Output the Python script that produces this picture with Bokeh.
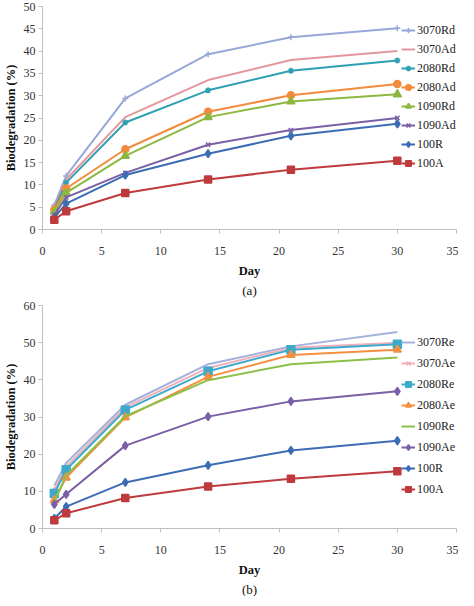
from bokeh.plotting import figure
from bokeh.models import Range1d, Legend, LegendItem, Title, FixedTicker
from bokeh.layouts import column
from bokeh.embed import file_html
from bokeh.resources import INLINE

days = [1, 2, 7, 14, 21, 30]
x_ticks = [0, 5, 10, 15, 20, 25, 30, 35]

# Panel (a)
a_names = ["3070Rd", "3070Ad", "2080Rd", "2080Ad", "1090Rd", "1090Ad", "100R", "100A"]
a_3070Rd = [5.5, 12.0, 29.4, 39.3, 43.1, 45.1]
a_3070Ad = [5.0, 11.2, 25.2, 33.5, 38.0, 40.0]
a_2080Rd = [4.6, 10.5, 24.0, 31.2, 35.6, 37.9]
a_2080Ad = [4.5, 9.2, 18.0, 26.4, 30.1, 32.6]
a_1090Rd = [4.0, 8.2, 16.5, 25.2, 28.7, 30.3]
a_1090Ad = [3.3, 7.2, 12.7, 19.0, 22.3, 25.0]
a_100R = [2.7, 5.8, 12.2, 17.0, 21.0, 23.7]
a_100A = [2.2, 4.1, 8.2, 11.2, 13.4, 15.4]
a_ticks = [0, 5, 10, 15, 20, 25, 30, 35, 40, 45, 50]

# Panel (b)
b_names = ["3070Re", "3070Ae", "2080Re", "2080Ae", "1090Re", "1090Ae", "100R", "100A"]
b_3070Re = [11.5, 17.6, 33.3, 44.2, 49.0, 52.9]
b_3070Ae = [10.5, 16.6, 32.6, 43.2, 48.6, 50.0]
b_2080Re = [9.4, 15.8, 31.9, 42.3, 48.1, 49.6]
b_2080Ae = [7.6, 13.7, 29.9, 40.8, 46.7, 48.1]
b_1090Re = [7.2, 14.3, 30.2, 39.9, 44.2, 46.0]
b_1090Ae = [6.5, 9.2, 22.3, 30.1, 34.2, 36.9]
b_100R = [2.7, 5.9, 12.4, 17.0, 21.0, 23.6]
b_100A = [2.2, 4.1, 8.2, 11.3, 13.4, 15.4]
b_ticks = [0, 10, 20, 30, 40, 50, 60]

a_styles = [
    ("#97A8D8", "cross", 6),
    ("#E4979B", None, 0),
    ("#2F9FB3", "asterisk", 6),
    ("#F38A3C", "circle", 7),
    ("#8DB83F", "triangle", 8),
    ("#7B5FA6", "x", 6),
    ("#3C6DB4", "diamond", 8),
    ("#BE3A3C", "square", 7),
]
b_styles = [
    ("#A3B2DC", None, 0),
    ("#F0B0B8", "x", 5),
    ("#3EAACB", "square", 8),
    ("#F58F3F", "triangle", 8),
    ("#8CC04A", None, 0),
    ("#7B5FA6", "diamond", 8),
    ("#3C6DB4", "diamond", 8),
    ("#BE3A3C", "square", 7),
]

SERIF = "Liberation Serif"


def make_fig(names, series, styles, ymax, yticks, caption, height, top, bottom,
             leg_y, glyph_h, spacing):
    p = figure(width=458, height=height, output_backend="svg", toolbar_location=None,
               x_range=Range1d(0, 35), y_range=Range1d(0, ymax),
               min_border_left=30, min_border_right=2, min_border_top=top,
               min_border_bottom=bottom)
    p.outline_line_color = None
    p.xgrid.visible = False
    p.ygrid.visible = False
    p.xaxis.ticker = FixedTicker(ticks=x_ticks)
    p.yaxis.ticker = FixedTicker(ticks=yticks)
    for ax in (p.xaxis[0], p.yaxis[0]):
        ax.axis_line_color = "#BFBFBF"
        ax.major_tick_line_color = "#BFBFBF"
        ax.major_tick_out = 4
        ax.major_tick_in = 0
        ax.minor_tick_line_color = None
        ax.major_label_text_font = SERIF
        ax.major_label_text_font_size = "12px"
        ax.major_label_text_color = "#333333"
        ax.axis_label_text_font = SERIF
        ax.axis_label_text_font_size = "12.5px"
        ax.axis_label_text_font_style = "bold"
        ax.axis_label_text_color = "#111111"
    p.yaxis.axis_label = "Biodegradation (%)"
    p.yaxis.major_label_standoff = 3
    p.yaxis.axis_label_standoff = 3
    p.xaxis.axis_label = "Day"
    p.xaxis.major_label_standoff = 13
    p.xaxis.axis_label_standoff = 6
    items = []
    for name, ys, (color, marker, size) in zip(names, series, styles):
        rs = [p.line(days, ys, line_color=color, line_width=2)]
        if marker:
            rs.append(p.scatter(days, ys, marker=marker, size=size, fill_color=color,
                                line_color=color, line_width=1.5))
        items.append(LegendItem(label=name, renderers=rs))
    n = len(items)
    entry = glyph_h + spacing
    leg = Legend(items=items, location=(359, leg_y - n * entry), padding=0, margin=0,
                 spacing=spacing, glyph_width=14, glyph_height=glyph_h,
                 label_height=glyph_h, label_width=40, label_standoff=2,
                 label_text_font=SERIF, label_text_font_size="12px",
                 label_text_color="#222222", border_line_color=None,
                 background_fill_alpha=0)
    p.add_layout(leg)
    p.add_layout(Title(text=caption, align="center", text_font=SERIF,
                       text_font_size="13px", text_font_style="normal",
                       text_color="#111111", standoff=0, offset=0), "below")
    return p


p1 = make_fig(a_names,
              [a_3070Rd, a_3070Ad, a_2080Rd, a_2080Ad, a_1090Rd, a_1090Ad, a_100R, a_100A],
              a_styles, 50, a_ticks, "(a)", 299, 6, 70, 210, 16, 3)
p2 = make_fig(b_names,
              [b_3070Re, b_3070Ae, b_2080Re, b_2080Ae, b_1090Re, b_1090Ae, b_100R, b_100A],
              b_styles, 60, b_ticks, "(b)", 297, 6, 66, 198, 18, 3)

layout = column(p1, p2, spacing=0)
open("out.html", "w").write(file_html(layout, INLINE))
